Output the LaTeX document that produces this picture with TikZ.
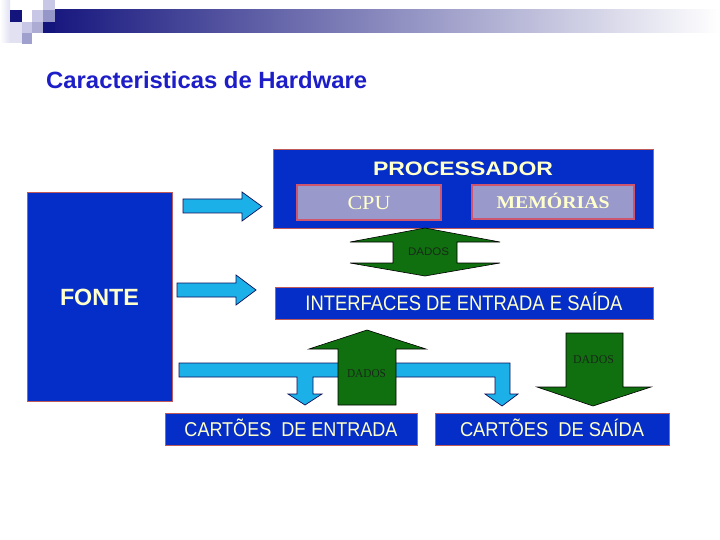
\documentclass[tikz,border=0pt]{standalone}
\usepackage{fontspec}
\setmainfont{Liberation Sans}
\newfontfamily\sansf{Liberation Sans}
\newfontfamily\seriff{Liberation Serif}
\usepackage{graphicx}
\newcommand\fitw[2]{\resizebox{#1}{\height}{#2}}
\definecolor{boxblue}{RGB}{5,45,200}
\definecolor{boxedge}{RGB}{190,90,90}
\definecolor{lav}{RGB}{153,153,204}
\definecolor{lavedge}{RGB}{205,85,110}
\definecolor{txty}{RGB}{255,255,204}
\definecolor{grn}{RGB}{16,112,16}
\definecolor{sky}{RGB}{28,176,232}
\definecolor{titleblue}{RGB}{30,30,200}
\definecolor{navyc}{RGB}{20,20,125}
\definecolor{sqpale}{RGB}{225,225,242}
\definecolor{sqlight}{RGB}{200,200,230}
\definecolor{sqmed}{RGB}{150,150,200}
\definecolor{dadostxt}{RGB}{25,40,25}
\begin{document}
\begin{tikzpicture}[x=1pt,y=-1pt,
  bluebox/.style={draw=boxedge, line width=0.8pt, fill=boxblue, inner sep=0pt, text=txty},
  lavbox/.style={draw=lavedge, line width=1.3pt, fill=lav, inner sep=0pt, text=txty},
  skyarrow/.style={fill=sky, draw=navyc!70!black, line width=0.7pt, line join=miter},
  grnarrow/.style={fill=grn, draw=black, line width=0.6pt, line join=miter},
  txt/.style={inner sep=0pt, anchor=base},
  dadosf/.style={txt, text=dadostxt}]
\useasboundingbox (0,0) rectangle (720,540);
\fill[white] (0,0) rectangle (720,540);
% header decoration
\shade[left color=navyc, middle color={rgb,255:red,178;green,178;blue,202}, right color=white] (43,10) rectangle (720,33);
\fill[left color=white, right color=sqpale] (0,0) rectangle (10,43);
\fill[sqpale] (10,22) rectangle (22,43);
\fill[navyc] (10,10) rectangle (22,22);
\fill[sqlight] (22,22) rectangle (32,33);
\fill[sqmed!90!white] (22,33) rectangle (32,44);
\fill[sqlight] (32,10) rectangle (43,22);
\fill[sqmed!80!white] (32,22) rectangle (43,33);
\fill[sqlight] (43,0) rectangle (55,10);
\fill[sqmed] (43,10) rectangle (55,22);
\fill[navyc] (43,22) rectangle (55,33);
% title
\node[txt, anchor=base west, text=titleblue] (title) at (46,89) {\fitw{321pt}{\fontsize{23.5}{24}\selectfont\bfseries Caracteristicas de Hardware}};
% FONTE
\node[bluebox, minimum width=145pt, minimum height=209pt, text height=17pt, text depth=0pt] (fonte) at (99.5,296.5) {\fitw{79pt}{\fontsize{23.5}{24}\selectfont\bfseries FONTE}};
% PROCESSADOR
\node[bluebox, minimum width=380pt, minimum height=79pt] (proc) at (463,188.5) {};
\node[txt, text=txty] (proctitle) at (463,175.7) {\fitw{180pt}{\fontsize{19.5}{20}\selectfont\bfseries PROCESSADOR}};
\node[lavbox, minimum width=144pt, minimum height=35pt, text height=15pt, text depth=0pt] (cpu) at (369,202.5) {\fitw{43pt}{\seriff\fontsize{20}{20}\selectfont CPU}};
\node[lavbox, minimum width=162pt, minimum height=34pt, text height=14pt, text depth=0pt] (mem) at (553,202) {\fitw{113pt}{\seriff\fontsize{18}{18}\selectfont\bfseries MEMÓRIAS}};
% sky arrows from FONTE
\draw[skyarrow] (183,199) -- (242,199) -- (242,192) -- (262,206.5) -- (242,221) -- (242,213) -- (183,213) -- cycle;
\draw[skyarrow] (177,283) -- (236,283) -- (236,275) -- (256,290) -- (236,305) -- (236,297) -- (177,297) -- cycle;
% green double arrow
\draw[grnarrow] (425,228) -- (500,242) -- (457,242) -- (457,263) -- (500,263) -- (425,276) -- (350,263) -- (393,263) -- (393,242) -- (350,242) -- cycle;
\node[dadosf] (dados1) at (428.5,255) {\fitw{41pt}{\sansf\fontsize{11}{11}\selectfont DADOS}};
% interfaces
\node[bluebox, minimum width=378pt, minimum height=32pt, text height=14pt, text depth=0pt] (interf) at (464,303) {\fitw{317pt}{\fontsize{21}{21}\selectfont INTERFACES DE ENTRADA E SAÍDA}};
% branched sky arrow
\draw[skyarrow] (179,363) -- (510,363) -- (510,394) -- (518,394) -- (502,406) -- (485,394) -- (495,394) -- (495,377) -- (313,377) -- (313,394) -- (322,394) -- (305,405) -- (288,394) -- (297,394) -- (297,377) -- (179,377) -- cycle;
% green up arrow
\draw[grnarrow] (338,405) -- (338,349) -- (309,349) -- (367,330) -- (426,349) -- (396,349) -- (396,405) -- cycle;
\node[dadosf] (dados2) at (366.5,377) {\fitw{39pt}{\seriff\fontsize{12}{12}\selectfont DADOS}};
% green down arrow
\draw[grnarrow] (566,333) -- (623,333) -- (623,387) -- (651,387) -- (593,406) -- (537,387) -- (566,387) -- cycle;
\node[dadosf] (dados3) at (593.5,363) {\fitw{41pt}{\seriff\fontsize{12}{12}\selectfont DADOS}};
% bottom boxes
\node[bluebox, minimum width=252pt, minimum height=32pt, text height=14pt, text depth=0pt] (cent) at (291,429) {\fitw{213pt}{\fontsize{20}{20}\selectfont CARTÕES\ \ DE ENTRADA}};
\node[bluebox, minimum width=234pt, minimum height=32pt, text height=14pt, text depth=0pt] (csai) at (552,429) {\fitw{184pt}{\fontsize{20}{20}\selectfont CARTÕES\ \ DE SAÍDA}};
\end{tikzpicture}
\end{document}
